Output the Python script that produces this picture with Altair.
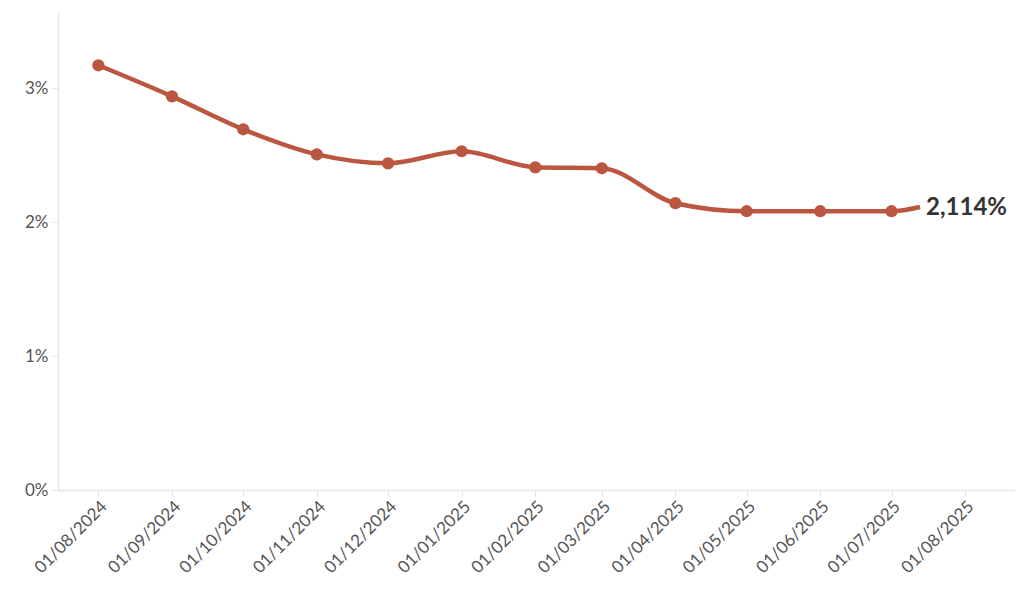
import altair as alt
import pandas as pd

dates = ["2024-08-01", "2024-09-01", "2024-10-01", "2024-11-01", "2024-12-01",
         "2025-01-01", "2025-02-01", "2025-03-01", "2025-04-01", "2025-05-01",
         "2025-06-01", "2025-07-01", "2025-07-13"]
values = [3.172, 2.940, 2.694, 2.507, 2.440, 2.530, 2.410, 2.403, 2.142, 2.082,
          2.082, 2.082, 2.114]
markers = [True] * 12 + [False]
tick_dates = dates[:12] + ["2025-08-01"]
end_label = "2,114%"

df = pd.DataFrame({"date": dates, "value": [v / 100 for v in values], "marker": markers})
df_end = pd.DataFrame({"date": [dates[-1]], "value": [values[-1] / 100], "label": [end_label]})

COLOR = "#bb5641"
FONT = "Lato"

x = alt.X("date:T",
          scale=alt.Scale(domain=["2024-07-15", "2025-08-22"]),
          axis=alt.Axis(title=None, format="%d/%m/%Y", labelAngle=-45,
                        values=tick_dates,
                        labelFont=FONT, labelFontSize=17, labelColor="#555555",
                        domainColor="#e6e6e6", tickColor="#e6e6e6", tickSize=6,
                        domainWidth=1.5, grid=False, labelPadding=2,
                        labelOverlap=False, labelBound=False, labelFlush=False))
y = alt.Y("value:Q",
          scale=alt.Scale(domain=[0, 0.0357], nice=False, zero=True),
          axis=alt.Axis(title=None, format=".0%", values=[0, 0.01, 0.02, 0.03],
                        labelFont=FONT, labelFontSize=17, labelColor="#555555",
                        domainColor="#e6e6e6", tickColor="#e6e6e6", tickSize=6,
                        domainWidth=1.5, grid=False, labelPadding=4))

base = alt.Chart(df)
line = base.mark_line(color=COLOR, strokeWidth=4.5, interpolate="monotone").encode(x=x, y=y)
pts = base.transform_filter("datum.marker").mark_circle(color=COLOR, size=150, opacity=1).encode(x=x, y=y)
txt = alt.Chart(df_end).mark_text(align="left", baseline="middle", dx=6, dy=1, font=FONT,
                                  fontSize=24, fontWeight="bold", color="#333333").encode(
    x=x, y=y, text="label:N")

chart = (line + pts + txt).properties(
    width=957, height=478,
    autosize=alt.AutoSizeParams(type="none"),
    padding={"left": 50, "top": 4, "right": 0, "bottom": 100},
).configure_view(stroke=None)

chart.save("out.html", embed_options={"renderer": "svg", "actions": False})
